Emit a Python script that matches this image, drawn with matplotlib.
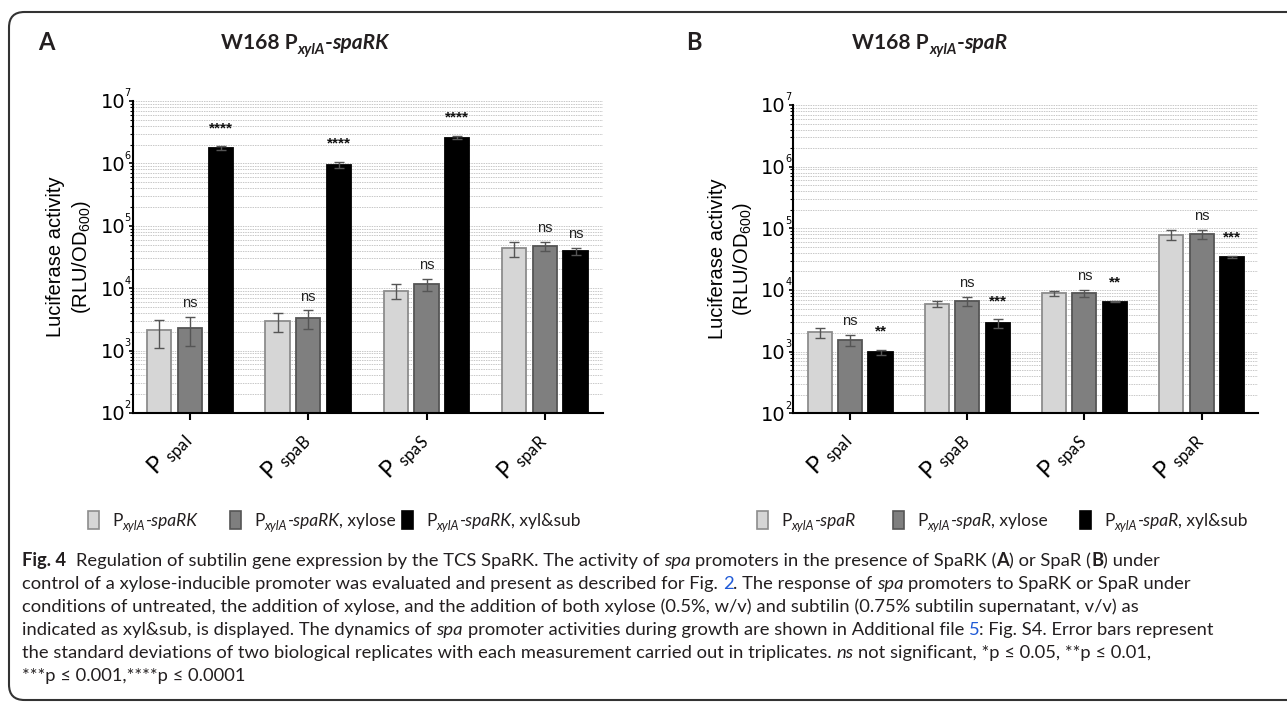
import matplotlib
matplotlib.use("Agg")
import matplotlib.pyplot as plt
import numpy as np
from matplotlib.patches import Rectangle, FancyBboxPatch
from matplotlib.ticker import LogLocator, NullFormatter, FuncFormatter
from matplotlib.transforms import ScaledTranslation
from matplotlib.font_manager import FontProperties

# ---- data ----
promoters = ["spaI", "spaB", "spaS", "spaR"]

# panel A: W168 PxylA-spaRK
a_plain = [2.1e3, 3.0e3, 9.1e3, 4.4e4]
a_plain_err = [1.0e3, 1.0e3, 2.5e3, 1.2e4]
a_xyl = [2.3e3, 3.3e3, 1.15e4, 4.8e4]
a_xyl_err = [1.1e3, 1.1e3, 2.4e3, 0.8e4]
a_sub = [1.75e6, 9.5e5, 2.6e6, 3.9e4]
a_sub_err = [1.2e5, 1.2e5, 1.5e5, 0.55e4]
a_sig_xyl = ["ns", "ns", "ns", "ns"]
a_sig_sub = ["****", "****", "****", "ns"]

# panel B: W168 PxylA-spaR
b_plain = [2.05e3, 5.9e3, 8.8e3, 7.9e4]
b_plain_err = [0.38e3, 0.7e3, 0.9e3, 1.5e4]
b_xyl = [1.56e3, 6.6e3, 8.8e3, 8.1e4]
b_xyl_err = [0.32e3, 1.2e3, 1.1e3, 1.3e4]
b_sub = [9.8e2, 2.9e3, 6.5e3, 3.45e4]
b_sub_err = [1.0e2, 0.45e3, 0.2e3, 0.1e4]
b_sig_xyl = ["ns", "ns", "ns", "ns"]
b_sig_sub = ["**", "***", "**", "***"]

W, H = 1287, 703
INK = "#231f20"
fills = ["#d6d6d6", "#7f7f7f", "#000000"]
edges = ["#8c8c8c", "#555555", "#000000"]

fig = plt.figure(figsize=(W / 100, H / 100), dpi=100)
renderer = fig.canvas.get_renderer()
plt.rcParams["mathtext.default"] = "regular"


def px_axes(left, top, right, bottom):
    return fig.add_axes([left / W, 1 - bottom / H, (right - left) / W, (bottom - top) / H])


def draw_panel(ax, series, errs, sig_xyl, sig_sub, xlim):
    x = np.arange(len(promoters))
    offs = [-0.26, 0.0, 0.26]
    for vals, err, off, fc, ec in zip(series, errs, offs, fills, edges):
        ax.bar(x + off, vals, width=0.205, color=fc, edgecolor=ec, linewidth=1.3, zorder=2)
        ax.errorbar(x + off, vals, yerr=err, fmt="none", ecolor="#555555",
                    elinewidth=1, capsize=3.5, capthick=1, zorder=3)
    for sigs, vals, err, off in [(sig_xyl, series[1], errs[1], 0.0),
                                 (sig_sub, series[2], errs[2], 0.26)]:
        for i, s in enumerate(sigs):
            if s == "ns":
                ax.annotate(s, (x[i] + off, vals[i] + err[i]), xytext=(0, 5),
                            textcoords="offset points", ha="center", va="bottom",
                            fontsize=10.5, family="Liberation Sans", color="#222222")
            else:
                ax.annotate(s, (x[i] + off, vals[i] + err[i]), xytext=(0, 8),
                            textcoords="offset points", ha="center", va="bottom",
                            fontsize=11, fontweight="bold", family="Liberation Sans",
                            color="#111111")

    ax.set_yscale("log")
    ax.set_ylim(1e2, 1e7)
    ax.set_xlim(*xlim)
    ax.yaxis.set_major_locator(LogLocator(base=10, numticks=10))
    ax.yaxis.set_minor_locator(LogLocator(base=10, subs=np.arange(2, 10), numticks=50))
    ax.yaxis.set_major_formatter(FuncFormatter(lambda v, p: "10"))
    ax.yaxis.set_minor_formatter(NullFormatter())
    ax.yaxis.grid(True, which="both", color="#c8c8c8", linewidth=0.7, linestyle=(0, (1.5, 1)))
    ax.set_axisbelow(True)
    for side in ["top", "right"]:
        ax.spines[side].set_visible(False)
    for side in ["left", "bottom"]:
        ax.spines[side].set_linewidth(1.5)
    ax.tick_params(axis="y", which="major", direction="out", length=3, width=1.2, pad=2.5,
                   labelsize=14)
    ax.tick_params(axis="y", which="minor", direction="out", length=2, width=0.8)
    ax.tick_params(axis="x", which="major", direction="out", length=5, width=1.5, pad=5)
    for lab in ax.get_yticklabels():
        lab.set_family("DejaVu Sans")
    for k in range(2, 8):
        ax.annotate(str(k), (0, 10.0 ** k), xycoords=("axes fraction", "data"),
                    xytext=(-1.5, 5.5), textcoords="offset points", ha="right", va="center",
                    fontsize=7, family="DejaVu Sans")
    ax.set_xticks(x)
    ax.set_xticklabels([r"P $_{%s}$" % p for p in promoters], rotation=45, ha="right",
                       va="top", rotation_mode="anchor", fontsize=17, family="Lato")
    shift = ScaledTranslation(-0.12, 0, fig.dpi_scale_trans)
    for lab in ax.get_xticklabels():
        lab.set_transform(lab.get_transform() + shift)
    ax.set_ylabel("Luciferase activity\n(RLU/OD$_{600}$)", fontsize=14.5,
                  family="Liberation Sans", linespacing=1.25)
    ax.yaxis.set_label_coords(-0.085, 0.5)


ax_a = px_axes(132.7, 101, 602.7, 413)
draw_panel(ax_a, [a_plain, a_xyl, a_sub], [a_plain_err, a_xyl_err, a_sub_err],
           a_sig_xyl, a_sig_sub, (-0.485, 3.49))
ax_b = px_axes(793.3, 105, 1257.7, 413.3)
draw_panel(ax_b, [b_plain, b_xyl, b_sub], [b_plain_err, b_xyl_err, b_sub_err],
           b_sig_xyl, b_sig_sub, (-0.484, 3.478))


# ---- text runs with mixed styles ----
def adv(s, fp):
    if not s:
        return 0.0
    w1 = renderer.get_text_width_height_descent("x" + s + "x", fp, ismath=False)[0]
    w0 = renderer.get_text_width_height_descent("xx", fp, ismath=False)[0]
    return w1 - w0


def put_runs(runs, x, y, ha="left", size=12, family="Lato"):
    items, total = [], 0.0
    for s, st in runs:
        fp = FontProperties(family=family, size=st.get("size", size),
                            weight=st.get("weight", "normal"), style=st.get("style", "normal"))
        core = s.strip(" ")
        lead = len(s) - len(s.lstrip(" "))
        trail = len(s) - len(s.rstrip(" ")) if core else 0
        a_lead = adv(" " * lead, fp)
        items.append((core, fp, st, total + a_lead))
        total += a_lead + adv(core, fp) + adv(" " * trail, fp)
    x0 = x - total / 2 if ha == "center" else x
    for core, fp, st, off in items:
        fig.text((x0 + off) / W, 1 - (y + st.get("dy", 0)) / H, core, fontproperties=fp,
                 color=st.get("color", INK), va="baseline", ha="left")
    return x0 + total


B = {"weight": "bold"}
I = {"style": "italic"}
R = {}

# panel letters and titles
put_runs([("A", B)], 38, 50, size=17)
put_runs([("B", B)], 686, 50, size=17)
put_runs([("W168 P", B), ("xylA", {"weight": "bold", "style": "italic", "size": 10.5, "dy": 5}),
          ("-", B), ("spaRK", {"weight": "bold", "style": "italic"})], 305, 49, ha="center", size=15)
put_runs([("W168 P", B), ("xylA", {"weight": "bold", "style": "italic", "size": 10.5, "dy": 5}),
          ("-", B), ("spaR", {"weight": "bold", "style": "italic"})], 930, 49, ha="center", size=15)

# legends
sub = {"style": "italic", "size": 9, "dy": 4}
leg_a = [[("P", R), ("xylA", sub), ("-spaRK", I)],
         [("P", R), ("xylA", sub), ("-spaRK", I), (", xylose", R)],
         [("P", R), ("xylA", sub), ("-spaRK", I), (", xyl&sub", R)]]
leg_b = [[("P", R), ("xylA", sub), ("-spaR", I)],
         [("P", R), ("xylA", sub), ("-spaR", I), (", xylose", R)],
         [("P", R), ("xylA", sub), ("-spaR", I), (", xyl&sub", R)]]
for labels, xs in [(leg_a, [88, 230, 402]), (leg_b, [757, 893, 1080])]:
    for lab, sx, fc, ec in zip(labels, xs, fills, edges):
        fig.add_artist(Rectangle((sx / W, 1 - 529 / H), 11 / W, 18 / H, transform=fig.transFigure,
                                 facecolor=fc, edgecolor=ec, linewidth=1.2))
        put_runs(lab, sx + 24, 526, size=12.5)

# caption
blue = {"color": "#1f5ad6"}
caption = [
    [("Fig. 4", B), ("  Regulation of subtilin gene expression by the TCS SpaRK. The activity of ", R),
     ("spa", I), (" promoters in the presence of SpaRK (", R), ("A", B), (") or SpaR (", R),
     ("B", B), (") under", R)],
    [("control of a xylose-inducible promoter was evaluated and present as described for Fig. ", R),
     ("2", blue), (". The response of ", R), ("spa", I), (" promoters to SpaRK or SpaR under", R)],
    [("conditions of untreated, the addition of xylose, and the addition of both xylose (0.5%, w/v) "
      "and subtilin (0.75% subtilin supernatant, v/v) as", R)],
    [("indicated as xyl&sub, is displayed. The dynamics of ", R), ("spa", I),
     (" promoter activities during growth are shown in Additional file ", R), ("5", blue),
     (": Fig. S4. Error bars represent", R)],
    [("the standard deviations of two biological replicates with each measurement carried out "
      "in triplicates. ", R), ("ns", I), (" not significant, *p \u2264 0.05, **p \u2264 0.01,", R)],
    [("***p \u2264 0.001,****p \u2264 0.0001", R)],
]
for i, line in enumerate(caption):
    put_runs(line, 22, 566 + 23 * i, size=13.2)

# rounded frame
fig.add_artist(FancyBboxPatch((9 / W, 3 / H), 1.05, 1 - 15 / H,
                              boxstyle="round,pad=0,rounding_size=0.012",
                              transform=fig.transFigure, facecolor="none",
                              edgecolor="#333333", linewidth=1.5, mutation_aspect=W / H))

fig.savefig("out.png", dpi=100)
